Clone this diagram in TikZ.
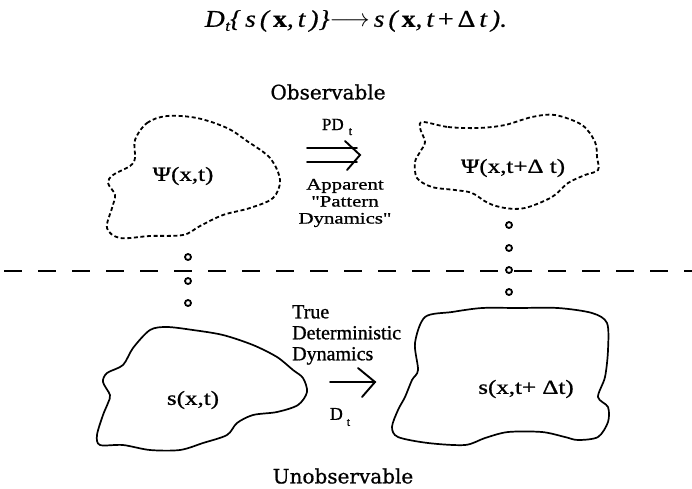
\documentclass[tikz,border=0pt]{standalone}
\usepackage{fontspec}
\setmainfont[FakeBold=0.9]{Liberation Serif}
\newfontfamily\widefont[FakeStretch=1.25,FakeBold=0.9]{Liberation Serif}
\newfontfamily\obsfont[FakeBold=0.8]{DejaVu Serif}
\newfontfamily\appfont[FakeStretch=1.3,FakeBold=0.9]{Liberation Serif}
\newfontfamily\eqfont[FakeStretch=1.15,FakeBold=0.5]{Liberation Serif}
\begin{document}
\begin{tikzpicture}[x=1pt,y=-1pt,
  blobdash/.style={line width=1.8pt, dash pattern=on 4pt off 2.6pt},
  blobsolid/.style={line width=1.7pt, line join=round},
  lab/.style={inner sep=0pt, font=\widefont\fontsize{20}{20}\selectfont},
  pin/.style={circle, draw, line width=1.8pt, minimum size=6pt, inner sep=0pt},
  arr/.style={line width=1.9pt, line cap=round},
  sidetext/.style={inner sep=0pt, align=left, font=\fontsize{20}{21}\selectfont},
  apptext/.style={inner sep=0pt, align=center, font=\appfont\fontsize{16}{17}\selectfont},
  obstext/.style={inner sep=0pt, font=\obsfont\fontsize{20}{20}\selectfont}
]
\useasboundingbox (0,0) rectangle (692,488);
\fill[white] (0,0) rectangle (692,488);

% equation
\node[inner sep=0pt] (eq) at (356,21) {\eqfont\fontsize{24}{24}\selectfont\itshape D\kern0.5pt\raisebox{-4pt}{\fontsize{15}{15}\selectfont t}\{\,s\,(\,{\upshape\bfseries x},\,t\,)\}$\longrightarrow$\,s\,(\,{\upshape\bfseries x},\,t\,{\upshape +}\,{\upshape Δ}\,t\,).};

% headings
\node[obstext] (obs) at (328,92) {Observable};
\node[obstext] (unobs) at (343,476) {Unobservable};

% separator
\draw[line width=1.8pt, dash pattern=on 18pt off 16pt] (4,271) -- (692,271);

% observable blobs
\draw[blobdash] plot[smooth cycle, tension=0.55] coordinates {(135,140) (147,123) (167,116) (197,118) (227,128) (247,141) (270,158) (280,180) (273,198) (250,208) (223,215) (200,226) (183,235) (150,236) (120,238) (107,228) (112,208) (115,195) (108,183) (113,175) (130,166) (135,158)};
\node[lab] (psi1) at (183,176) {Ψ(x,t)};

\draw[blobdash] plot[smooth cycle, tension=0.55] coordinates {(423,122) (448,127) (478,128) (505,125) (532,117) (555,115) (582,125) (595,142) (597,157) (598,170) (585,175) (568,183) (552,197) (525,208) (505,208) (488,203) (472,193) (455,190) (432,187) (417,178) (415,162) (420,152) (425,142) (420,128)};
\node[lab] (psi2) at (513,168) {Ψ(x,t+Δ t)};

% unobservable blobs
\draw[blobsolid] plot[smooth cycle, tension=0.5] coordinates {(150,330) (167,327) (193,330) (223,335) (253,345) (277,357) (293,370) (303,378) (307,392) (298,405) (277,412) (253,415) (237,423) (227,435) (203,443) (180,450) (150,450) (123,445) (100,445) (97,435) (103,415) (108,403) (110,395) (103,382) (107,373) (123,365) (133,348)};
\node[lab] (s1) at (193,400) {s(x,t)};

\draw[blobsolid] plot[smooth cycle, tension=0.5] coordinates {(425,317) (452,312) (482,308) (518,308) (558,308) (592,313) (607,323) (608,350) (605,377) (598,397) (608,407) (608,422) (598,437) (578,440) (565,437) (542,432) (508,432) (485,438) (465,445) (428,443) (398,437) (392,427) (398,410) (405,397) (412,380) (418,370) (415,343)};
\node[lab] (s2) at (526,389) {s(x,t+ Δt)};

% small circles linking levels
\node[pin] (cl1) at (188,257) {};
\node[pin] (cl2) at (188,281) {};
\node[pin] (cl3) at (188,303) {};
\node[pin] (cr1) at (509,225) {};
\node[pin] (cr2) at (509,248) {};
\node[pin] (cr3) at (509,270) {};
\node[pin] (cr4) at (509,292) {};

% pattern dynamics double arrow
\coordinate (pa1) at (307,148);
\coordinate (pa2) at (357,148);
\coordinate (pb1) at (307,162);
\coordinate (pb2) at (357,162);
\coordinate (pc1) at (345,141);
\coordinate (pt) at (360,155);
\coordinate (pc2) at (347,170);
\draw[arr] (pa1) -- (pa2);
\draw[arr] (pb1) -- (pb2);
\draw[arr, line join=miter] (pc1) -- (pt) -- (pc2);
\node[inner sep=0pt, font=\fontsize{17}{17}\selectfont] (pd) at (337,127) {PD\kern5pt\raisebox{-5pt}{\fontsize{12}{12}\selectfont t}};
\node[apptext] (app) at (345,203) {Apparent\\"Pattern\\Dynamics"};

% true dynamics arrow
\coordinate (da1) at (330,382);
\coordinate (dt) at (375,382);
\coordinate (dc1) at (358,368);
\coordinate (dc2) at (362,397);
\draw[arr] (da1) -- (dt);
\draw[arr, line join=miter] (dc1) -- (dt) -- (dc2);
\node[inner sep=0pt, font=\fontsize{18}{18}\selectfont] (dlab) at (340,417) {D\kern4pt\raisebox{-6pt}{\fontsize{12}{12}\selectfont t}};
\node[sidetext, anchor=north west] (true) at (292,305) {True\\Deterministic\\Dynamics};
\end{tikzpicture}
\end{document}
